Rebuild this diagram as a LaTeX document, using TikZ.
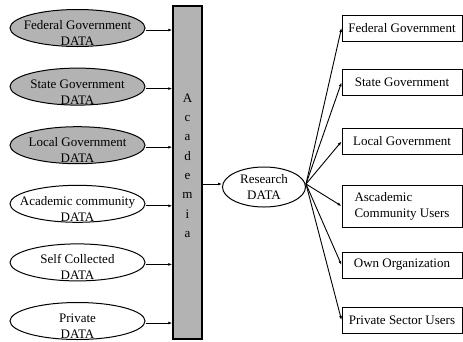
\documentclass[tikz,border=0pt]{standalone}
\usepackage{fontspec}
\setmainfont{Liberation Serif}
\usetikzlibrary{arrows.meta, positioning, shapes.geometric}
\definecolor{clrGov}{HTML}{B3B3B3}
\definecolor{clrBar}{HTML}{B3B3B3}

\begin{document}
\begin{tikzpicture}[x=1pt, y=-1pt, node distance=20.6pt,
    src/.style={ellipse, draw, line width=1pt, minimum width=135pt,
      minimum height=37pt, inner xsep=-12pt, inner ysep=-7pt, align=center,
      font=\fontsize{13}{16}\selectfont, text height=35pt, text depth=0pt},
    gov/.style={src, fill=clrGov},
    user/.style={rectangle, draw, line width=1pt, minimum width=120pt,
      minimum height=26pt, inner sep=2pt, align=center,
      font=\fontsize{13}{16}\selectfont},
    feed/.style={-{Latex[length=4pt,width=3pt]}, line width=0.9pt}]

  \useasboundingbox (0,0) rectangle (463,341);

  % sources
  \node[gov] (fed) at (77.5,28) {Federal Government\\DATA};
  \node[gov, below=of fed] (state) {State Government\\DATA};
  \node[gov, below=of state] (local) {Local Government\\DATA};
  \node[src, below=of local] (acom) {Academic community\\DATA};
  \node[src, below=of acom] (self) {Self Collected\\DATA};
  \node[src, below=of self] (priv) {Private\\DATA};

  % academia bar
  \node[rectangle, draw, fill=clrBar, line width=1.5pt, minimum width=29pt,
        minimum height=333pt, inner sep=0pt, align=center,
        font=\fontsize{13}{19.3}\selectfont] (acad) at (187.5,172.5)
        {A\\c\\a\\d\\e\\m\\i\\a\rule[-14pt]{0pt}{14pt}};

  \node[ellipse, draw, line width=1pt, minimum width=83pt, minimum height=40pt,
        inner sep=0pt, align=center, font=\fontsize{13}{16}\selectfont]
        (research) at (264,187) {Research\\DATA};

  % users
  \node[user] (ufed) at (402,28) {Federal Government};
  \node[user] (ustate) at (402,82.5) {State Government};
  \node[user] (ulocal) at (402,141.5) {Local Government};
  \node[user, minimum height=42pt, align=left] (uacad) at (402,206)
        {Ascademic\\Community Users};
  \node[user] (uown) at (402,265) {Own Organization};
  \node[user] (upriv) at (402,320) {Private Sector Users};

  \draw[feed] ([yshift=-2pt]fed.east) -- ([yshift=-2pt]fed.east -| acad.west);
  \draw[feed] ([yshift=-2pt]state.east) -- ([yshift=-2pt]state.east -| acad.west);
  \draw[feed] ([yshift=-2pt]local.east) -- ([yshift=-2pt]local.east -| acad.west);
  \draw[feed] ([yshift=-2pt]acom.east) -- ([yshift=-2pt]acom.east -| acad.west);
  \draw[feed] ([yshift=-2pt]self.east) -- ([yshift=-2pt]self.east -| acad.west);
  \draw[feed] ([yshift=-2pt]priv.east) -- ([yshift=-2pt]priv.east -| acad.west);

  \draw[feed] ([yshift=3pt]acad.east |- research.west) -- ([yshift=3pt]research.west);

  \draw[feed] ([yshift=3pt]research.east) -- (ufed.west);
  \draw[feed] ([yshift=3pt]research.east) -- (ustate.west);
  \draw[feed] ([yshift=3pt]research.east) -- (ulocal.west);
  \draw[feed] ([yshift=3pt]research.east) -- (uacad.west);
  \draw[feed] ([yshift=3pt]research.east) -- (uown.west);
  \draw[feed] ([yshift=3pt]research.east) -- (upriv.west);
\end{tikzpicture}
\end{document}
